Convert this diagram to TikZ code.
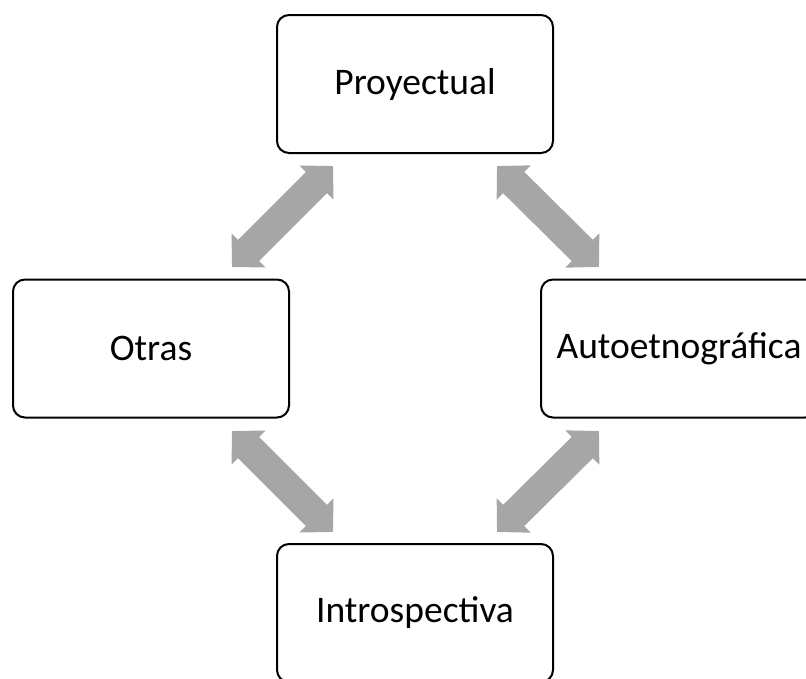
\documentclass[tikz,border=0pt]{standalone}
\usepackage{fontspec}
\setmainfont{Carlito}
\usetikzlibrary{arrows.meta}
\definecolor{arrowgray}{RGB}{166,166,166}
\begin{document}
\begin{tikzpicture}[x=1pt,y=-1pt,
  box/.style={draw=black, line width=2pt, rounded corners=12pt, fill=white,
    minimum width=276pt, minimum height=138pt, inner sep=0pt,
    font=\fontsize{37.5}{42}\selectfont},
  dblarrow/.style={draw=arrowgray, line width=30pt,
    {Triangle[width=47pt,length=23.5pt]}-{Triangle[width=47pt,length=23.5pt]}}]
\clip (0,0) rectangle (806,678);
\useasboundingbox (0,0) rectangle (806,678);
\node[box] (proy) at (415,84) {Proyectual};
\node[box] (otras) at (151,348.5) {Otras};
\node[box] (auto) at (679,348.5) {Autoetnográfica};
\node[box] (intro) at (415,613) {Introspectiva};
\coordinate (a1s) at (333,166);
\coordinate (a1e) at (232,267);
\coordinate (a2s) at (497,166);
\coordinate (a2e) at (599,267);
\coordinate (a3s) at (232,431);
\coordinate (a3e) at (333,532);
\coordinate (a4s) at (497,532);
\coordinate (a4e) at (599,431);
\draw[dblarrow] (a1s) -- (a1e);
\draw[dblarrow] (a2s) -- (a2e);
\draw[dblarrow] (a3s) -- (a3e);
\draw[dblarrow] (a4s) -- (a4e);
\end{tikzpicture}
\end{document}
